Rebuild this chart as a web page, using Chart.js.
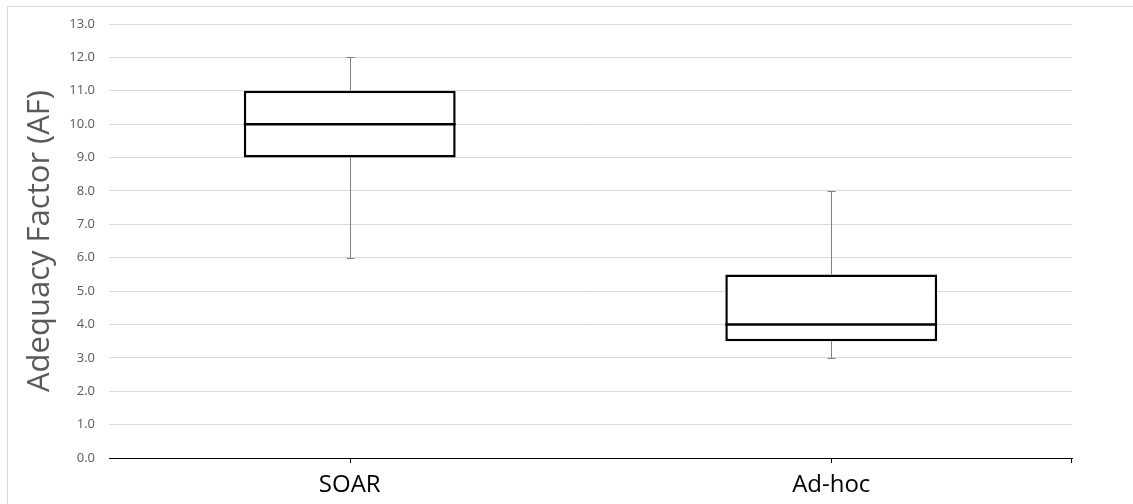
<!DOCTYPE html>
<html lang="en">
<head>
    <title>Adequacy Factor box plot</title>
    <script src="https://cdn.jsdelivr.net/npm/chart.js"></script>
    <style>
        html, body { margin: 0; padding: 0; background: #fff; }
        #wrap { width: 1133px; height: 504px; position: relative; }
    </style>
</head>
<body>
<div id="wrap">
    <canvas id="chart"></canvas>
</div>
<script>
    // data
    const categories = ['SOAR', 'Ad-hoc'];
    const mins    = [6.0, 3.0];
    const q1s     = [9.0, 3.5];
    const medians = [10.0, 4.0];
    const q3s     = [11.0, 5.5];
    const maxs    = [12.0, 8.0];
    const yTicks  = [0, 1, 2, 3, 4, 5, 6, 7, 8, 9, 10, 11, 12, 13];

    const boxes = categories.map((c, i) => [q1s[i], q3s[i]]);

    // whiskers, medians, x tick marks and the outer frame
    const boxPlotExtras = {
        id: 'boxPlotExtras',
        beforeDraw(chart) {
            const ctx = chart.ctx;
            ctx.save();
            ctx.strokeStyle = '#d9d9d9';
            ctx.lineWidth = 1;
            ctx.beginPath();
            ctx.moveTo(7.5, chart.height);
            ctx.lineTo(7.5, 6.5);
            ctx.lineTo(chart.width, 6.5);
            ctx.stroke();
            ctx.restore();
        },
        afterDatasetsDraw(chart) {
            const ctx = chart.ctx;
            const y = chart.scales.y;
            const x = chart.scales.x;
            const meta = chart.getDatasetMeta(0);
            ctx.save();
            meta.data.forEach((bar, i) => {
                const cx = Math.round(bar.x) + 0.5;
                // whiskers
                ctx.strokeStyle = '#808080';
                ctx.lineWidth = 1;
                ctx.beginPath();
                ctx.moveTo(cx, y.getPixelForValue(maxs[i]));
                ctx.lineTo(cx, y.getPixelForValue(q3s[i]));
                ctx.moveTo(cx, y.getPixelForValue(q1s[i]));
                ctx.lineTo(cx, y.getPixelForValue(mins[i]));
                [maxs[i], mins[i]].forEach(v => {
                    const py = Math.round(y.getPixelForValue(v)) + 0.5;
                    ctx.moveTo(cx - 4, py);
                    ctx.lineTo(cx + 4, py);
                });
                ctx.stroke();
                // median
                ctx.strokeStyle = '#000';
                ctx.lineWidth = 2.5;
                ctx.beginPath();
                const my = y.getPixelForValue(medians[i]);
                ctx.moveTo(bar.x - bar.width / 2, my);
                ctx.lineTo(bar.x + bar.width / 2, my);
                ctx.stroke();
            });
            // x axis tick marks
            ctx.strokeStyle = '#000';
            ctx.lineWidth = 1;
            ctx.beginPath();
            const by = Math.round(chart.chartArea.bottom);
            categories.forEach((c, i) => {
                const tx = Math.round(x.getPixelForValue(i)) + 0.5;
                ctx.moveTo(tx, by);
                ctx.lineTo(tx, by + 5);
            });
            const rx = Math.round(chart.chartArea.right) - 0.5;
            ctx.moveTo(rx, by);
            ctx.lineTo(rx, by + 5);
            ctx.stroke();
            ctx.restore();
        }
    };

    new Chart(document.getElementById('chart'), {
        type: 'bar',
        data: {
            labels: categories,
            datasets: [{
                data: boxes,
                backgroundColor: '#fff',
                borderColor: '#000',
                borderWidth: 2.5,
                borderSkipped: false,
                barPercentage: 0.44,
                categoryPercentage: 1
            }]
        },
        options: {
            responsive: true,
            maintainAspectRatio: false,
            animation: false,
            layout: { padding: { top: 24, right: 61, left: 0, bottom: 0 } },
            plugins: {
                legend: { display: false },
                tooltip: { enabled: false }
            },
            scales: {
                x: {
                    grid: { display: false },
                    border: { display: true, color: '#000', width: 1 },
                    ticks: {
                        color: '#000',
                        padding: 5,
                        font: { family: 'Open Sans', size: 24 }
                    },
                    afterFit(scale) { scale.height = 46; }
                },
                y: {
                    min: 0,
                    max: 13,
                    afterBuildTicks(scale) {
                        scale.ticks = yTicks.map(v => ({ value: v }));
                    },
                    grid: { color: '#d9d9d9', drawTicks: false },
                    border: { display: false },
                    ticks: {
                        color: '#595959',
                        padding: 14,
                        font: { family: 'Open Sans', size: 13 },
                        callback: v => v.toFixed(1)
                    },
                    title: {
                        display: true,
                        text: 'Adequacy Factor (AF)',
                        color: '#595959',
                        padding: { top: 22, bottom: 0 },
                        font: { family: 'Open Sans', size: 31, weight: 'normal' }
                    },
                    afterFit(scale) { scale.width = 109; }
                }
            }
        },
        plugins: [boxPlotExtras]
    });
</script>
</body>
</html>
